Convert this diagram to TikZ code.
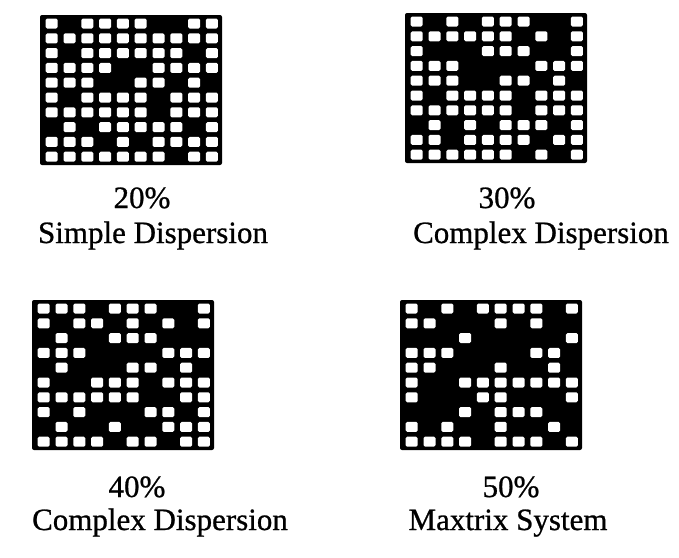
\documentclass[tikz,border=0pt]{standalone}
\usepackage{fontspec}
\setmainfont{Liberation Serif}
\newfontfamily\lblfont{Liberation Serif}[FakeBold=0.8]
\tikzset{
  lbl/.style={font=\lblfont\fontsize{31}{36}\selectfont, anchor=base, inner sep=0pt},
  cellw/.style={fill=white, rounded corners=1.5pt},
  matbg/.style={fill=black, rounded corners=2pt}
}
\newcommand\drawmat[3]{%
  \fill[matbg] (#1,#2) rectangle ++(182,150);
  \foreach \rw [count=\r] in {#3} {
    \foreach \v [count=\c] in \rw {
      \ifnum\v=0
        \fill[cellw] ({#1+5.7+17.8*(\c-1)},{#2+3.5+14.8*(\r-1)}) rectangle ++(12,10);
      \fi
    }
  }
}
\begin{document}
\begin{tikzpicture}[x=1pt,y=-1pt]
\useasboundingbox (0,0) rectangle (679,557);
% 20% simple dispersion
\drawmat{40}{15}{
 {0,1,0,0,0,0,1,1,0,0},
 {0,0,0,0,0,0,0,0,0,0},
 {0,1,0,0,0,0,0,0,1,0},
 {0,0,0,0,1,1,0,0,0,0},
 {0,0,0,1,1,0,0,1,0,1},
 {0,1,0,0,0,0,1,0,0,0},
 {0,0,0,0,0,0,1,0,0,0},
 {1,0,1,0,0,0,0,0,1,0},
 {0,0,0,1,0,1,0,0,0,0},
 {0,0,0,0,0,0,0,1,0,0}}
% 30% complex dispersion
\drawmat{405}{13}{
 {0,1,0,1,0,0,0,1,1,0},
 {0,0,0,0,0,0,1,0,1,0},
 {0,1,1,1,0,0,0,1,1,0},
 {0,0,0,1,1,1,1,0,0,0},
 {0,0,0,1,1,0,0,1,0,1},
 {0,1,0,0,0,0,1,0,0,0},
 {0,0,0,0,0,0,1,0,0,0},
 {1,0,1,0,1,0,0,0,1,0},
 {0,0,1,0,0,0,0,1,0,0},
 {0,0,0,0,0,0,1,0,1,0}}
% 40% complex dispersion
\drawmat{32}{300}{
 {0,0,0,1,0,0,0,1,1,0},
 {0,1,0,0,1,0,1,0,1,0},
 {1,0,1,1,0,0,0,1,1,1},
 {0,0,0,1,1,1,1,0,0,0},
 {1,0,1,1,1,0,0,1,0,1},
 {0,1,1,0,0,0,1,0,0,0},
 {0,0,0,0,0,0,1,1,0,0},
 {0,1,0,1,1,1,0,0,1,0},
 {1,0,1,1,0,1,1,0,0,0},
 {0,0,0,0,1,0,0,1,0,0}}
% 50% matrix system
\drawmat{400}{300}{
 {0,1,0,1,0,0,0,0,1,0},
 {0,0,1,1,1,0,1,0,1,1},
 {1,1,1,0,1,1,1,1,1,0},
 {0,0,0,1,1,1,1,0,0,1},
 {0,0,1,1,1,0,1,1,0,1},
 {0,1,1,0,0,0,0,0,0,0},
 {0,1,1,1,0,0,1,1,1,0},
 {1,1,1,0,1,0,0,0,1,1},
 {0,1,0,1,1,0,1,1,0,1},
 {0,0,0,0,1,0,0,0,1,0}}
% labels
\node[lbl] (p20) at (142,208) {20\%};
\node[lbl] (t20) at (153,243) {Simple Dispersion};
\node[lbl] (p30) at (507,208) {30\%};
\node[lbl] (t30) at (541,243) {Complex Dispersion};
\node[lbl] (p40) at (137,497) {40\%};
\node[lbl] (t40) at (160,530) {Complex Dispersion};
\node[lbl] (p50) at (511,497) {50\%};
\node[lbl] (t50) at (508,530) {Maxtrix System};
\end{tikzpicture}
\end{document}
